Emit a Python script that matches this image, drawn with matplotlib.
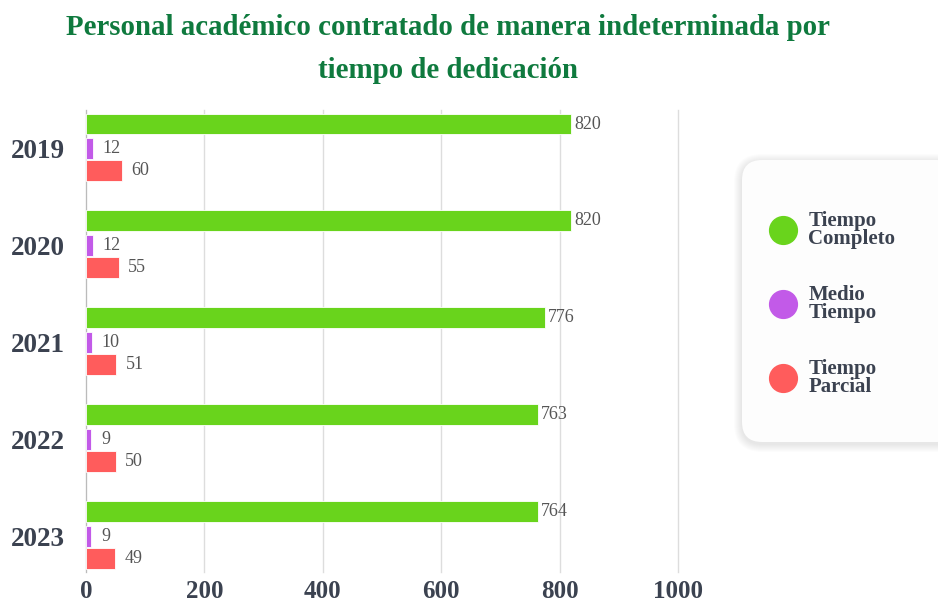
import numpy as np
import matplotlib.pyplot as plt
from matplotlib.patches import FancyBboxPatch
from matplotlib.lines import Line2D
from matplotlib.transforms import IdentityTransform

years = ['2019', '2020', '2021', '2022', '2023']
completo = [820, 820, 776, 763, 764]
medio = [12, 12, 10, 9, 9]
parcial = [60, 55, 51, 50, 49]
series_names = ['Tiempo\nCompleto', 'Medio\nTiempo', 'Tiempo\nParcial']
colors = ['#69d41c', '#c25ae8', '#ff5c5c']

plt.rcParams['font.family'] = ['Liberation Serif', 'DejaVu Serif']
dark = '#3b4250'

fig = plt.figure(figsize=(9.38, 6.03), dpi=100)
ax = fig.add_axes([86 / 938, 1 - 572 / 603, (678 - 86) / 938, (572 - 110) / 603])

y = np.arange(len(years))
h = 0.215
offsets = [-0.255, 0.0, 0.228]
for vals, off, c in zip([completo, medio, parcial], offsets, colors):
    bars = ax.barh(y + off, vals, height=h, color=c, edgecolor='white', linewidth=0.6, zorder=3)
    for b, v in zip(bars, vals):
        pad = 2 if v > 100 else 7
        ax.annotate(str(v), (b.get_width(), b.get_y() + b.get_height() / 2),
                    xytext=(pad, 0), textcoords='offset points', va='center', ha='left',
                    fontsize=13, color='#555555')

ax.set_xlim(0, 1000)
ax.set_ylim(4.37, -0.40)
ax.set_xticks([0, 200, 400, 600, 800, 1000])
ax.set_yticks(y)
ax.set_yticklabels(years)
ax.tick_params(length=0, labelsize=18, labelcolor=dark)
ax.tick_params(axis='y', labelsize=19.5, pad=15)
ax.tick_params(axis='x', pad=6)
for lab in ax.get_xticklabels() + ax.get_yticklabels():
    lab.set_fontweight('bold')
ax.grid(axis='x', color='#dddddd', linewidth=1, zorder=0)
for g in ax.get_xgridlines():
    g.set_clip_on(False)
for s in ['top', 'right', 'bottom']:
    ax.spines[s].set_visible(False)
ax.spines['left'].set_color('#bbbbbb')

fig.text(448 / 938, 1 - 49 / 603,
         'Personal académico contratado de manera indeterminada por\ntiempo de dedicación',
         ha='center', va='center', fontsize=20.8, fontweight='bold', color='#0f7a3e',
         linespacing=1.75)

# legend card with soft shadow
x0, y0, w, hh = 742, 603 - 442, 215, 282
for i in range(8, 0, -1):
    fig.patches.append(FancyBboxPatch((x0 - i, y0 - i - 2), w + 2 * i, hh + 2 * i,
                                      boxstyle='round,pad=0,rounding_size=%d' % (20 + i),
                                      transform=IdentityTransform(), facecolor='#000000',
                                      edgecolor='none', alpha=0.012, zorder=0))
fig.patches.append(FancyBboxPatch((x0, y0), w, hh, boxstyle='round,pad=0,rounding_size=20',
                                  transform=IdentityTransform(), facecolor='#fdfdfd',
                                  edgecolor='none', zorder=1))

handles = [Line2D([], [], marker='o', linestyle='none', markersize=20,
                  markerfacecolor=c, markeredgecolor=c) for c in colors]
leg = fig.legend(handles, series_names, loc='center left', bbox_to_anchor=(752 / 938, 1 - 304 / 603),
                 frameon=False, fontsize=15, labelspacing=1.75, handletextpad=0.6,
                 handlelength=1.2, labelcolor=dark)
for t in leg.get_texts():
    t.set_fontweight('bold')
    t.set_linespacing(0.85)

fig.savefig('out.png', dpi=100)
